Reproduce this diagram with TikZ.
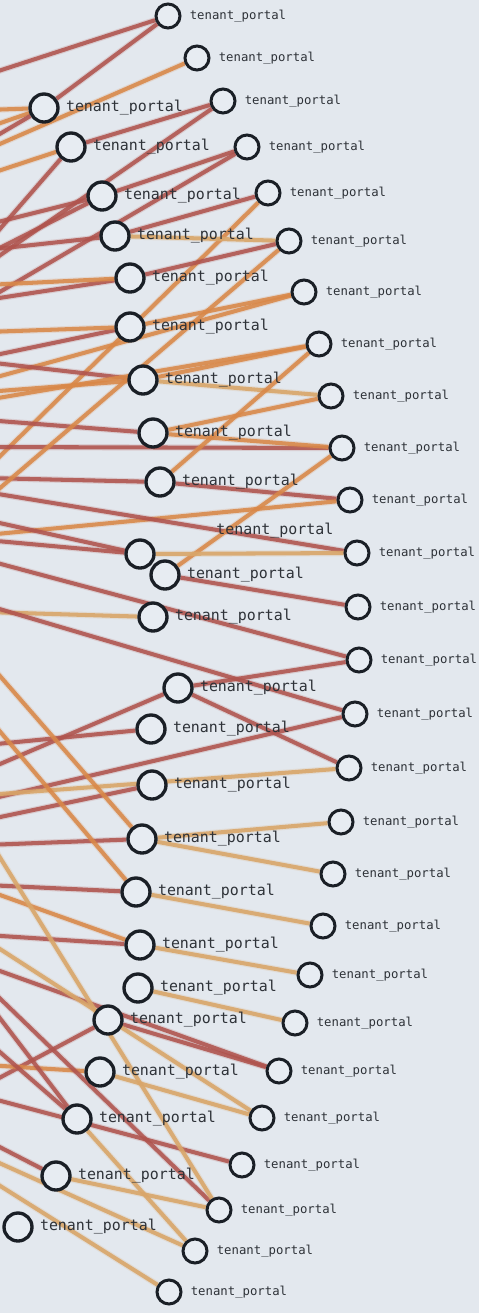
\documentclass[tikz,border=0pt]{standalone}
\usepackage{fontspec}
\setmonofont{DejaVu Sans Mono}
\definecolor{bgmist}{HTML}{E3E8EE}
\definecolor{linkred}{HTML}{B0544E}
\definecolor{linkorange}{HTML}{D98848}
\definecolor{linktan}{HTML}{D9A66A}
\definecolor{inkdark}{HTML}{1A1F26}
\definecolor{labelgray}{HTML}{2E3238}
\definecolor{holefill}{HTML}{E7ECF2}
\usetikzlibrary{positioning}
\pgfdeclarelayer{bg}
\pgfdeclarelayer{links}
\pgfsetlayers{bg,links,main}

\begin{document}
\begin{tikzpicture}[x=0.02cm, y=-0.02cm,
  outerport/.style={circle, draw=inkdark, line width=1.7pt, fill=holefill,
    minimum size=0.48cm, inner sep=0pt},
  innerport/.style={circle, draw=inkdark, line width=1.9pt, fill=holefill,
    minimum size=0.56cm, inner sep=0pt},
  outertext/.style={font=\ttfamily\fontsize{7}{8}\selectfont, text=labelgray, inner sep=0pt},
  innertext/.style={font=\ttfamily\fontsize{8.5}{9}\selectfont, text=labelgray, inner sep=0pt},
  redlink/.style={draw=linkred, line width=2.3pt, opacity=0.88,
    preaction={draw=linkred, line width=3.6pt, opacity=0.18}},
  orangelink/.style={draw=linkorange, line width=2.3pt, opacity=0.88,
    preaction={draw=linkorange, line width=3.6pt, opacity=0.18}},
  tanlink/.style={draw=linktan, line width=2.3pt, opacity=0.9,
    preaction={draw=linktan, line width=3.6pt, opacity=0.18}}]

  % canvas
  \useasboundingbox (0,0) rectangle (479,1313);
  \begin{pgfonlayer}{bg}
    \fill[bgmist] (0,0) rectangle (479,1313);
  \end{pgfonlayer}

  % outer column of ports
  \foreach \i/\x/\y in {1/168/16, 2/197/58, 3/223/101, 4/247/147, 5/268/193,
    6/289/241, 7/304/292, 8/319/344, 9/331/396, 10/342/448, 11/350/500,
    12/357/553, 13/358/607, 14/359/660, 15/355/714, 16/349/768, 17/341/822,
    18/333/874, 19/323/926, 20/310/975, 21/295/1023, 22/279/1071,
    23/262/1118, 24/242/1165, 25/219/1210, 26/195/1251, 27/169/1292} {
    \node[outerport] (r\i) at (\x,\y) {};
    \node[outertext, right=0.16cm of r\i] (r\i t) {tenant\_portal};
  }

  % inner column of ports
  \foreach \i/\x/\y in {1/44/108, 2/71/147, 3/102/196, 4/115/236, 5/130/278,
    6/130/327, 7/143/380, 8/153/433, 9/160/482, 11/165/575, 12/153/617,
    13/178/688, 14/151/729, 15/152/785, 16/142/839, 17/136/892, 18/140/945,
    19/138/988, 20/108/1020, 21/100/1072, 22/77/1119, 23/56/1176, 24/18/1227} {
    \node[innerport] (m\i) at (\x,\y) {};
    \node[innertext, right=0.12cm of m\i] (m\i t) {tenant\_portal};
  }
  \node[innerport] (m10) at (140,554) {};
  \node[innertext, above right=0.1cm and 1.3cm of m10] (m10t) {tenant\_portal};

  % free ends beyond the left edge
  \foreach \y in {75,110,128,142,150,175,225,245,250,255,265,285,300,332,357,
    362,380,392,400,420,447,470,478,492,500,520,535,540,560,605,612,660,715,
    745,770,795,800,820,835,845,885,890,935,940,966,985,1000,1040,1065,1085,
    1097,1140,1157,1177}
    \coordinate (w\y) at (-14,\y);

  % links
  \begin{pgfonlayer}{links}
  \begin{scope}
    \clip (0,0) rectangle (479,1313);
    \foreach \a/\b/\c in {w75/r1/redlink, m1/r1/redlink, w150/r2/orangelink,
      m2/r3/redlink, w265/r3/redlink, m3/r4/redlink, w300/r4/redlink,
      m4/r5/redlink, r5/w470/orangelink, m4/r6/tanlink, m5/r6/redlink,
      m6/r7/orangelink, w380/r7/orangelink, w110/m1/orangelink,
      w128/m1/orangelink, w142/m1/redlink, m2/w245/redlink,
      w175/m2/orangelink, m3/w225/redlink, m3/w255/redlink, w250/m4/redlink,
      w300/m5/redlink, w285/m5/orangelink, w357/m6/redlink,
      w332/m6/orangelink, w362/m7/redlink, w392/m7/orangelink,
      w400/r8/orangelink, m7/r8/orangelink, w420/m8/redlink,
      w447/r10/redlink, m8/r9/orangelink, m7/r9/tanlink, w478/m9/redlink,
      m9/r11/redlink, w535/r11/orangelink, w492/r12/redlink,
      r6/w500/orangelink, r8/m9/orangelink, r10/m11/orangelink,
      m8/r10/orangelink, w520/m10/redlink, w540/m10/redlink,
      w560/r14/redlink, m11/r13/redlink, m10/r12/tanlink, w612/m12/tanlink,
      w605/r15/redlink, w770/m13/redlink, m13/r14/redlink, m13/r16/redlink,
      w745/m14/redlink, w800/r15/redlink, w795/r16/tanlink, w820/m15/redlink,
      w845/m16/redlink, m16/r17/tanlink, m16/r18/tanlink,
      w660/m16/orangelink, w885/m17/redlink, w890/m18/orangelink,
      m17/r19/tanlink, w715/m17/orangelink, w935/m18/redlink,
      m18/r20/tanlink, m19/r21/tanlink, w1085/m20/redlink, m20/r22/redlink,
      w966/r22/redlink, w1065/m21/orangelink, m21/r23/tanlink,
      w940/r23/tanlink, w1000/m22/redlink, w1040/m22/redlink,
      w1097/r24/redlink, m22/r26/tanlink, w1140/m23/redlink,
      m23/r25/tanlink, w985/r25/redlink, w835/r25/tanlink,
      w1157/r26/tanlink, w1177/r27/tanlink}
      \draw[\c] (\a) -- (\b);
  \end{scope}
  \end{pgfonlayer}
\end{tikzpicture}
\end{document}
